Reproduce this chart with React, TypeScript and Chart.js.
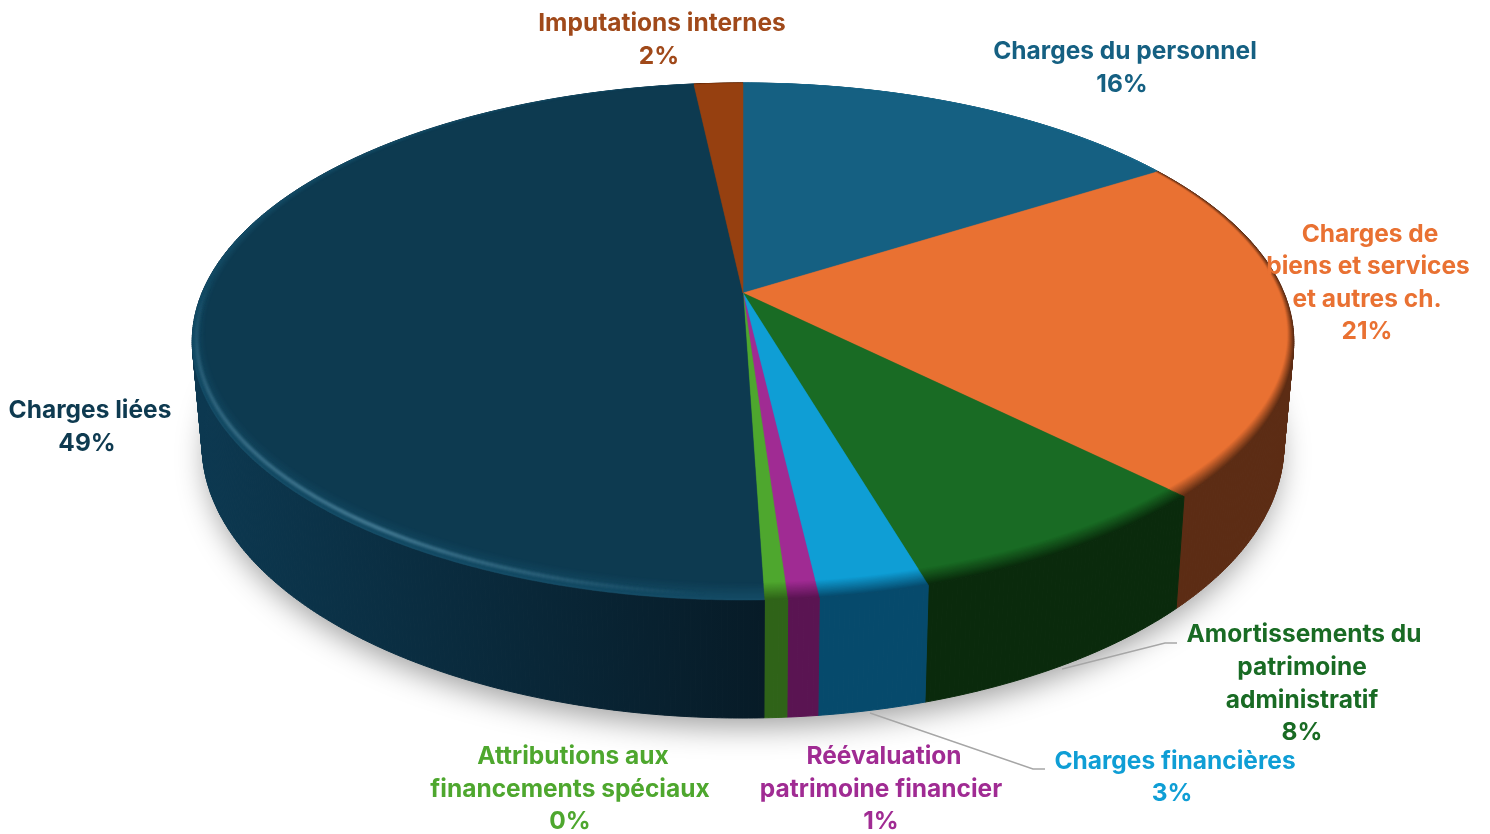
import React, { useEffect, useRef } from "react";
import { Chart, registerables } from "chart.js";

Chart.register(...registerables);

// ---- data (clockwise from 12 o'clock)
const categories = [
  "Charges du personnel",
  "Charges de biens et services et autres ch.",
  "Amortissements du patrimoine administratif",
  "Charges financières",
  "Réévaluation patrimoine financier",
  "Attributions aux financements spéciaux",
  "Charges liées",
  "Imputations internes",
];
const values = [16.0, 21.5, 7.97, 2.7, 0.76, 0.56, 48.79, 1.72];
const percentLabels = ["16%", "21%", "8%", "3%", "1%", "0%", "49%", "2%"];
const nameLines = [
  ["Charges du personnel"],
  ["Charges de", "biens et services", "et autres ch."],
  ["Amortissements du", "patrimoine", "administratif"],
  ["Charges financières"],
  ["Réévaluation", "patrimoine financier"],
  ["Attributions aux", "financements spéciaux"],
  ["Charges liées"],
  ["Imputations internes"],
];

// ---- styles
const topColors = ["#156082", "#E97132", "#196B24", "#0F9ED5", "#A02B93", "#4EA72E", "#0D3A50", "#964010"];
const wallColors = ["#0c3a4e", "#5C2C14", "#0A2A0C", "#064A6C", "#5A1452", "#2F6318", "#0C3850", "#5a2608"];
const wallEndColors = ["#0c3a4e", "#5C2C14", "#0A2A0C", "#064A6C", "#5A1452", "#2F6318", "#071B27", "#5a2608"];
const rimColors = ["#1d6d90", "#5C2C14", "#0A2A0C", "#064A6C", "#5A1452", "#2F6318", "#144c66", "#5a2608"];
const textColors = ["#156082", "#E97132", "#196B24", "#0F9ED5", "#A02B93", "#4EA72E", "#0E3A50", "#A0491A"];

// ---- layout of labels: centre x of each line, centre y of each line
const labelXs = [
  [1125, 1122],
  [1370, 1368, 1367, 1367],
  [1304, 1302, 1302, 1302],
  [1175, 1172],
  [884, 881, 881],
  [573, 570, 570],
  [90, 87],
  [662, 659],
];
const labelYs = [
  [52, 85],
  [235, 267, 300, 332],
  [635, 668, 701, 733],
  [762, 794],
  [757, 790, 822],
  [757, 790, 822],
  [411, 444],
  [24, 57],
];
const leaderLines = [
  [[1062, 669], [1165, 643], [1177, 643]],
  [[870, 713], [1033, 769], [1045, 769]],
];

// ---- perspective model of the disc
const CX = 743;
const P = 0.1876;
const TOP = { R: 541, S: 249.4, Y: 293 };
const BOTTOM = { R: 531.3, S: 263.4, Y: 393.8 };

type Ring = { R: number; S: number; Y: number };
const proj = (a: number, r: number, ring: Ring): [number, number] => {
  const u = r * Math.cos(a);
  const v = r * Math.sin(a);
  const w = 1 - P * v;
  return [CX + (ring.R * u) / w, ring.Y + (ring.S * v) / w];
};

const samples = (a0: number, a1: number): number[] => {
  const n = Math.max(2, Math.ceil((a1 - a0) / 0.008));
  const out: number[] = [];
  for (let i = 0; i <= n; i++) out.push(a0 + ((a1 - a0) * i) / n);
  return out;
};

const hex = (c: string) => [1, 3, 5].map((i) => parseInt(c.slice(i, i + 2), 16));
const mix = (a: string, b: string, t: number) => {
  const A = hex(a);
  const B = hex(b);
  return `rgb(${A.map((x, i) => Math.round(x + (B[i] - x) * t)).join(",")})`;
};

const bevelWidth = (a: number) => {
  const u = Math.cos(a);
  const v = Math.sin(a);
  return 0.004 + 0.042 * Math.pow(Math.max(0, v), 1.5) + 0.016 * Math.max(0, -u) + 0.005 * Math.max(0, u);
};

const pie3d = {
  id: "pie3d",
  beforeDatasetsDraw(chart: any) {
    const ctx: CanvasRenderingContext2D = chart.ctx;
    const arcs = chart.getDatasetMeta(0).data as any[];
    ctx.save();

    // soft shadow under the disc
    ctx.save();
    ctx.shadowColor = "rgba(0,0,0,0.38)";
    ctx.shadowBlur = 30;
    ctx.shadowOffsetY = 12;
    ctx.fillStyle = "#777";
    ctx.beginPath();
    samples(0, Math.PI * 2).forEach((a, i) => {
      const [x, y] = proj(a, 0.992, BOTTOM);
      if (i) ctx.lineTo(x, y);
      else ctx.moveTo(x, y);
    });
    ctx.closePath();
    ctx.fill();
    ctx.restore();

    // walls, as thin strips between the top and bottom rims
    arcs.forEach((arc, i) => {
      const as = samples(arc.startAngle, arc.endAngle);
      const g = ctx.createLinearGradient(205, 0, 765, 0);
      g.addColorStop(0, wallColors[i]);
      g.addColorStop(1, wallEndColors[i]);
      ctx.fillStyle = g;
      ctx.strokeStyle = g;
      ctx.lineWidth = 1;
      ctx.lineJoin = "round";
      for (let k = 1; k < as.length; k++) {
        ctx.beginPath();
        ctx.moveTo(...proj(as[k - 1], 1, TOP));
        ctx.lineTo(...proj(as[k], 1, TOP));
        ctx.lineTo(...proj(as[k], 1, BOTTOM));
        ctx.lineTo(...proj(as[k - 1], 1, BOTTOM));
        ctx.closePath();
        ctx.fill();
        ctx.stroke();
      }
    });

    // top face: rings from the rim inwards form the bevel
    const STEPS = 14;
    for (let s = 0; s <= STEPS; s++) {
      const t = s / STEPS;
      arcs.forEach((arc, i) => {
        const c = mix(rimColors[i], topColors[i], t);
        ctx.fillStyle = c;
        ctx.strokeStyle = c;
        ctx.lineWidth = 0.5;
        ctx.beginPath();
        ctx.moveTo(...proj(0, 0, TOP));
        samples(arc.startAngle, arc.endAngle).forEach((a) => {
          const [x, y] = proj(a, 1 - t * bevelWidth(a), TOP);
          ctx.lineTo(x, y);
        });
        ctx.closePath();
        ctx.fill();
        ctx.stroke();
      });
    }

    // light catching the rim at lower left
    const big = arcs[6];
    const span = big.endAngle - big.startAngle;
    const hs = samples(big.startAngle + span * 0.03, big.startAngle + span * 0.55);
    ctx.save();
    ctx.filter = "blur(1.4px)";
    ctx.lineWidth = 3;
    ctx.lineCap = "round";
    hs.forEach((a, k) => {
      if (!k) return;
      const f = (a - hs[0]) / (hs[hs.length - 1] - hs[0]);
      const alpha = f < 0.35 ? (f / 0.35) * 0.5 : 0.5 * (1 - (f - 0.35) / 0.65);
      ctx.strokeStyle = `rgba(110,165,190,${alpha})`;
      ctx.beginPath();
      ctx.moveTo(...proj(hs[k - 1], 1 - 0.35 * bevelWidth(hs[k - 1]), TOP));
      ctx.lineTo(...proj(a, 1 - 0.35 * bevelWidth(a), TOP));
      ctx.stroke();
    });
    ctx.restore();
    ctx.restore();
    return false;
  },
  afterDraw(chart: any) {
    const ctx: CanvasRenderingContext2D = chart.ctx;
    ctx.save();
    ctx.strokeStyle = "#a6a6a6";
    ctx.lineWidth = 1.4;
    leaderLines.forEach((l) => {
      ctx.beginPath();
      l.forEach(([x, y], k) => (k ? ctx.lineTo(x, y) : ctx.moveTo(x, y)));
      ctx.stroke();
    });
    ctx.font = "700 24.5px Inter";
    ctx.textAlign = "center";
    ctx.textBaseline = "middle";
    categories.forEach((_, i) => {
      const lines = [...nameLines[i], percentLabels[i]];
      ctx.fillStyle = textColors[i];
      lines.forEach((line, k) => ctx.fillText(line, labelXs[i][k], labelYs[i][k]));
    });
    ctx.restore();
  },
};

export default function App() {
  const ref = useRef<HTMLCanvasElement>(null);
  useEffect(() => {
    const chart = new Chart(ref.current!, {
      type: "pie",
      data: {
        labels: categories,
        datasets: [{ data: values, backgroundColor: topColors, borderWidth: 0 }],
      },
      options: {
        animation: false,
        responsive: false,
        plugins: { legend: { display: false }, tooltip: { enabled: false } },
      },
      plugins: [pie3d],
    } as any);
    return () => chart.destroy();
  }, []);
  return (
    <canvas
      ref={ref}
      width={1490}
      height={834}
      style={{ position: "absolute", left: 0, top: 0, display: "block" }}
    />
  );
}
